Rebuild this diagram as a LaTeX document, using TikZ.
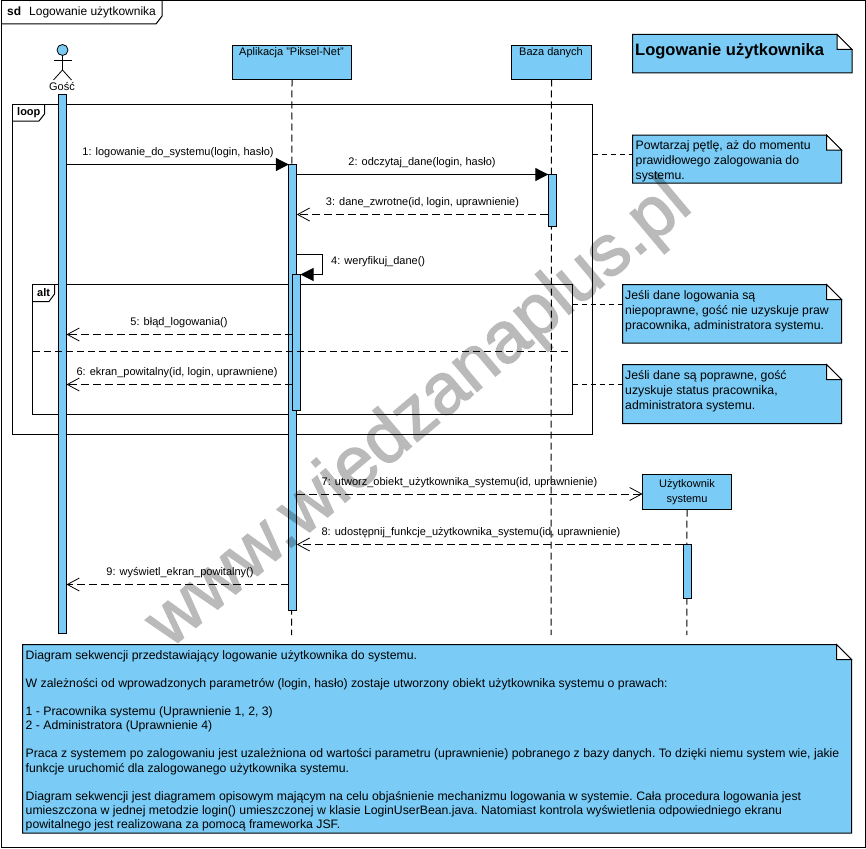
\documentclass[tikz,border=0pt]{standalone}
\usepackage{fontspec}
\setmainfont{Liberation Sans}
\newfontfamily\markfont[FakeBold=2]{Liberation Sans}
\usetikzlibrary{arrows.meta}
\definecolor{umlblue}{HTML}{7ACBF5}
\tikzset{
    lifebox/.style={draw, fill=umlblue, line width=1pt, inner sep=0pt, outer sep=0pt, anchor=north west},
    bar/.style={draw, fill=umlblue, line width=1pt, inner sep=0pt, outer sep=0pt, anchor=north west, minimum width=8pt},
    frame/.style={draw, line width=1pt, inner sep=0pt, outer sep=0pt, anchor=north west},
    note/.style={inner sep=0pt, outer sep=0pt, anchor=north west},
    notetext/.style={anchor=north west, inner sep=0pt, align=left, font=\frenchspacing\fontsize{12.25}{15}\selectfont},
    label/.style={inner sep=0pt, font=\fontsize{11}{13}\selectfont},
    lifeline/.style={line width=1pt, dash pattern=on 7pt off 4pt},
    syncmsg/.style={line width=1pt, -{Triangle[length=13pt, width=13pt]}},
    retmsg/.style={line width=1pt, dash pattern=on 8pt off 4pt, -{Straight Barb[length=12pt, width=13pt, line width=0.8pt]}},
    notelink/.style={line width=0.8pt, dash pattern=on 5pt off 4pt}
}
% x1, y1, x2, y2, name
\newcommand{\notebox}[5]{
    \node[note, minimum width=#3pt-#1pt, minimum height=#4pt-#2pt] (#5) at (#1,#2) {};
    \draw[fill=umlblue, line width=1pt] (#1,#2) -- (#3-15,#2) -- (#3,#2+15) -- (#3,#4) -- (#1,#4) -- cycle;
    \draw[fill=white, line width=1pt] (#3-15,#2) -- (#3,#2+15) -- (#3-15,#2+15) -- cycle;
}
\begin{document}
\begin{tikzpicture}[x=1pt, y=-1pt]
    \useasboundingbox (0,0) rectangle (866,848);

    % diagram frame
    \draw[line width=1pt] (1,1) rectangle (865,847);
    \draw[line width=1pt] (1,24) -- (156,24) -- (162,16) -- (162,1);
    \node[label, anchor=west, font=\fontsize{12}{14}\selectfont] (title) at (7,12.5) {\textbf{sd}\hspace{8pt}Logowanie użytkownika};

    % actor
    \draw[fill=umlblue, line width=0.8pt] (62.5,50) circle[radius=5.5];
    \draw[line width=0.8pt] (62.5,55.5) -- (62.5,70);
    \draw[line width=0.8pt] (53.5,60.5) -- (71.5,60.5);
    \draw[line width=0.8pt] (53.5,80) -- (62.5,70) -- (71.5,80);
    \node[label] (gosc) at (62,87) {Gość};

    % lifelines
    \node[lifebox, minimum width=119pt, minimum height=34pt] (app) at (232.5,45.5) {};
    \node[label] (app_label) at (291.5,52.5) {Aplikacja "Piksel-Net"};
    \node[lifebox, minimum width=80pt, minimum height=34pt] (baza) at (511.5,45.5) {};
    \node[label] (baza_label) at (551,52.5) {Baza danych};
    \node[lifebox, minimum width=89pt, minimum height=35pt, align=center, font=\fontsize{11}{15}\selectfont] (user) at (642.5,474.5) {Użytkownik\\systemu};
    \coordinate (app_end) at (291.5,635);
    \coordinate (baza_end) at (551,635);
    \coordinate (user_end) at (686.8,635);
    \draw[lifeline] (app.south) -- (app_end);
    \draw[lifeline] (baza.south) -- (baza_end);
    \draw[lifeline] (user.south) -- (user_end);

    % frames
    \node[frame, minimum width=580pt, minimum height=329.5pt] (loop_frame) at (12.5,104.5) {};
    \draw[line width=1pt] (12.5,121) -- (39,121) -- (44.5,114) -- (44.5,104.5);
    \node[label, anchor=west] (loop_label) at (17,112.5) {\textbf{loop}};
    \node[frame, minimum width=540pt, minimum height=130pt] (alt_frame) at (32.5,284.5) {};
    \draw[line width=1pt] (32.5,301.5) -- (49,301.5) -- (54.5,294) -- (54.5,284.5);
    \node[label, anchor=west] (alt_label) at (37,292.5) {\textbf{alt}};

    % activations
    \node[bar, minimum height=539pt] (gosc_bar) at (58.5,94.5) {};
    \node[bar, minimum height=446pt] (app_bar) at (288.8,164.5) {};
    \node[bar, minimum height=136pt] (app_bar2) at (292.5,274.5) {};
    \node[bar, minimum height=52pt] (baza_bar) at (548.3,174.5) {};
    \node[bar, minimum height=54pt] (user_bar) at (683,544.5) {};
    \draw[line width=1pt, dash pattern=on 7pt off 4pt] (alt_frame.west |- 0,351) -- (alt_frame.east |- 0,351);

    % messages
    \draw[syncmsg] (gosc_bar.east |- 0,164.5) -- (app_bar.west |- 0,164.5);
    \node[label] (m1) at (178,152.5) {1: logowanie\_do\_systemu(login, hasło)};
    \draw[syncmsg] (app_bar.east |- 0,174.5) -- (baza_bar.west |- 0,174.5);
    \node[label] (m2) at (422,162.5) {2: odczytaj\_dane(login, hasło)};
    \draw[retmsg] (baza_bar.west |- 0,214.5) -- (app_bar.east |- 0,214.5);
    \node[label] (m3) at (422.5,202.5) {3: dane\_zwrotne(id, login, uprawnienie)};
    \draw[line width=1pt] (app_bar.east |- 0,254.5) -- (322.5,254.5) -- (322.5,274.5);
    \draw[syncmsg] (322.5,274.5) -- (app_bar2.north east);
    \node[label, anchor=west] (m4) at (331,261.5) {4: weryfikuj\_dane()};
    \draw[retmsg] (app_bar2.west |- 0,334.5) -- (gosc_bar.east |- 0,334.5);
    \node[label] (m5) at (179,322.5) {5: błąd\_logowania()};
    \draw[retmsg] (app_bar2.west |- 0,384.5) -- (gosc_bar.east |- 0,384.5);
    \node[label] (m6) at (177,372.5) {6: ekran\_powitalny(id, login, uprawniene)};
    \draw[retmsg] (app_bar.east |- 0,494) -- (user.west |- 0,494);
    \node[label] (m7) at (459.5,482.5) {7: utworz\_obiekt\_użytkownika\_systemu(id, uprawnienie)};
    \draw[retmsg] (user_bar.west |- 0,544.5) -- (app_bar.east |- 0,544.5);
    \node[label] (m8) at (471,532.5) {8: udostępnij\_funkcje\_użytkownika\_systemu(id, uprawnienie)};
    \draw[retmsg] (app_bar.west |- 0,584.5) -- (gosc_bar.east |- 0,584.5);
    \node[label] (m9) at (180,572.5) {9: wyświetl\_ekran\_powitalny()};

    % notes
    \notebox{632.5}{34.5}{852}{73}{note_title}
    \node[notetext, font=\bfseries\fontsize{16.5}{18}\selectfont] (title_text) at (635,43.5) {Logowanie użytkownika};
    \notebox{632.5}{135}{841.5}{183}{note_loop}
    \node[notetext] (loop_text) at (635.5,140) {Powtarzaj pętlę, aż do momentu\\prawidłowego zalogowania do\\systemu.};
    \notebox{622.5}{284.5}{841.5}{343}{note_bad}
    \node[notetext] (bad_text) at (625,290) {Jeśli dane logowania są\\niepoprawne, gość nie uzyskuje praw\\pracownika, administratora systemu.};
    \notebox{622.5}{364.5}{841.5}{423.5}{note_good}
    \node[notetext] (good_text) at (625,370) {Jeśli dane są poprawne, gość\\uzyskuje status pracownika,\\administratora systemu.};
    \notebox{22.5}{644.5}{851.5}{833}{note_desc}
    \node[notetext, font=\frenchspacing\fontsize{12.25}{14.2}\selectfont] (desc_text) at (25.5,650) {Diagram sekwencji przedstawiający logowanie użytkownika do systemu.\\[14pt]
        W zależności od wprowadzonych parametrów (login, hasło) zostaje utworzony obiekt użytkownika systemu o prawach:\\[14pt]
        1 - Pracownika systemu (Uprawnienie 1, 2, 3)\\
        2 - Administratora (Uprawnienie 4)\\[14pt]
        Praca z systemem po zalogowaniu jest uzależniona od wartości parametru (uprawnienie) pobranego z bazy danych. To dzięki niemu system wie, jakie\\
        funkcje uruchomić dla zalogowanego użytkownika systemu.\\[14pt]
        Diagram sekwencji jest diagramem opisowym mającym na celu objaśnienie mechanizmu logowania w systemie. Cała procedura logowania jest\\
        umieszczona w jednej metodzie login() umieszczonej w klasie LoginUserBean.java. Natomiast kontrola wyświetlenia odpowiedniego ekranu\\
        powitalnego jest realizowana za pomocą frameworka JSF.};

    % note links
    \draw[notelink] (loop_frame.east |- 0,154.5) -- (note_loop.west |- 0,154.5);
    \draw[notelink] (alt_frame.east |- 0,304.5) -- (note_bad.west |- 0,304.5);
    \draw[notelink] (alt_frame.east |- 0,384.5) -- (note_good.west |- 0,384.5);

    % watermark
    \begin{scope}[transparency group, opacity=0.27]
        \node[text=black, rotate=40, font=\markfont\fontsize{72}{72}\selectfont, inner sep=0pt] (watermark) at (420,415) {www.wiedzanaplus.pl};
    \end{scope}
\end{tikzpicture}
\end{document}
